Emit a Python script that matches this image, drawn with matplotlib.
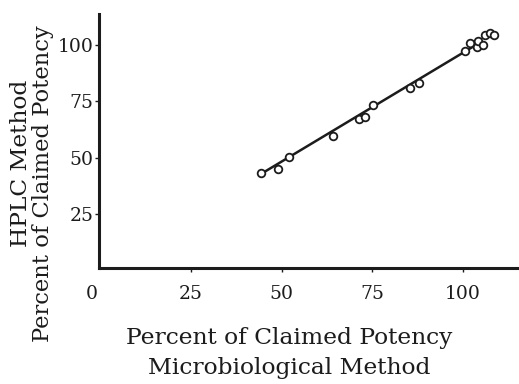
import numpy as np
import matplotlib
matplotlib.use('Agg')
import matplotlib.pyplot as plt

# percent of claimed potency, microbiological (x) vs HPLC (y)
micro = [44.2, 49.1, 52.1, 64.2, 71.4, 72.9, 75.1, 85.4, 87.9,
         100.4, 101.9, 103.8, 104.2, 105.6, 106.1, 107.3, 108.4]
hplc = [43.1, 45.0, 50.2, 59.7, 67.0, 68.2, 73.2, 81.0, 83.0,
        97.5, 101.0, 99.2, 101.9, 100.0, 104.4, 105.4, 104.6]

# regression line drawn through the points
fit_x = [43.8, 104.0]
fit_y = [42.3, 100.5]

xticks = [25, 50, 75, 100]
yticks = [25, 50, 75, 100]

ink = '#1c1c1c'
plt.rcParams['font.family'] = 'DejaVu Serif'

fig = plt.figure(figsize=(5.19, 3.84), dpi=100)
ax = fig.add_axes([99/519, 1 - 268/384, 1 - 99/519, (268 - 14)/384])

ax.plot(fit_x, fit_y, color=ink, lw=1.8, solid_capstyle='round')
ax.plot(micro, hplc, 'o', mfc='white', mec=ink, ms=5.5, mew=1.3)

ax.set_xlim(-0.36, 115.4)
ax.set_ylim(1.0, 113.8)

for s in ['top', 'right']:
    ax.spines[s].set_visible(False)
for s in ['left', 'bottom']:
    ax.spines[s].set_linewidth(2.2)
    ax.spines[s].set_color(ink)

ax.set_xticks(xticks)
ax.set_yticks(yticks)
ax.tick_params(axis='both', direction='out', length=3, width=1, color=ink,
               labelsize=13.5, labelcolor=ink)
ax.tick_params(axis='x', pad=9)
ax.tick_params(axis='y', pad=1)

# origin label sits below-left of the corner
ax.annotate('0', xy=(0, 0), xycoords='axes fraction', xytext=(-7, -26),
            textcoords='offset pixels', ha='center', va='center',
            fontsize=13.5, color=ink)

lab = 16.8
fig.text(289/519, 1 - 338/384, 'Percent of Claimed Potency', ha='center',
         va='center', fontsize=lab, color=ink)
fig.text(289/519, 1 - 368/384, 'Microbiological Method', ha='center',
         va='center', fontsize=lab, color=ink)
fig.text(21/519, 1 - 163/384, 'HPLC Method', rotation=90, ha='center',
         va='center', fontsize=lab, color=ink)
fig.text(43/519, 1 - 184/384, 'Percent of Claimed Potency', rotation=90,
         ha='center', va='center', fontsize=16.3, color=ink)

fig.savefig('out.png', dpi=100)
